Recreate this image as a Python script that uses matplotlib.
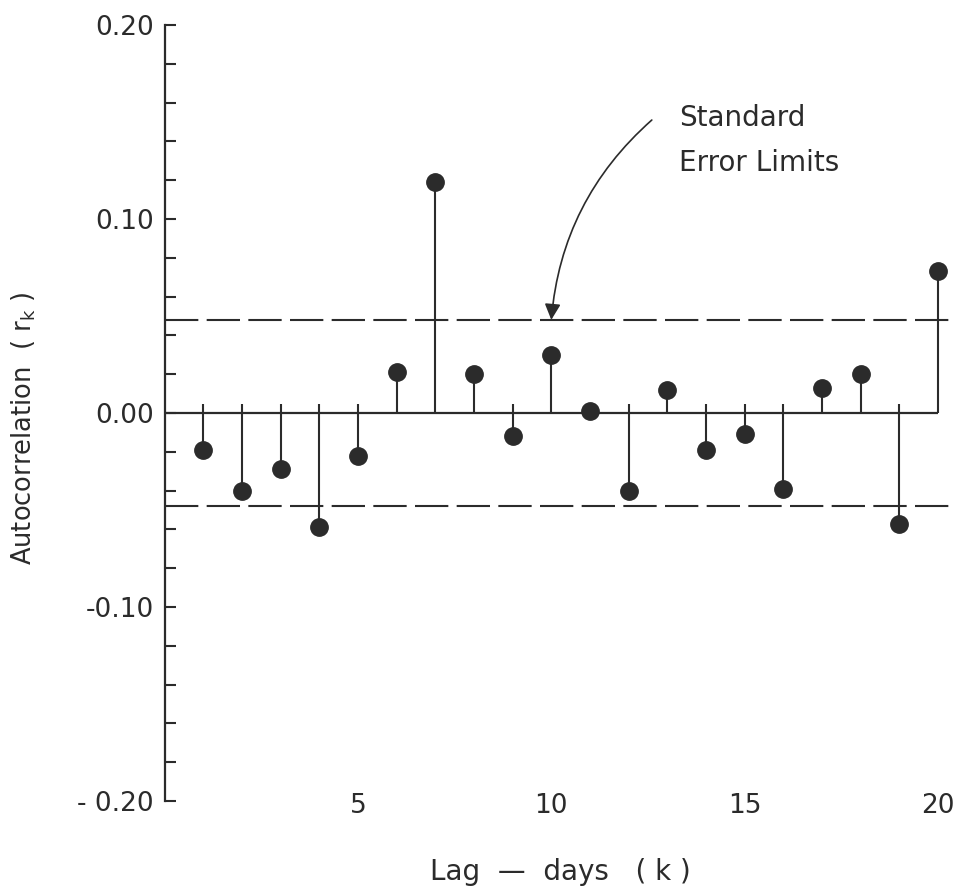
import matplotlib
matplotlib.use('Agg')
from matplotlib import pyplot as plt
from matplotlib.ticker import MultipleLocator, FixedLocator

# autocorrelation by lag
lags = list(range(1, 21))
r_k = [-0.019, -0.040, -0.029, -0.059, -0.022, 0.021, 0.119, 0.020, -0.012, 0.030,
       0.001, -0.040, 0.012, -0.019, -0.011, -0.039, 0.013, 0.020, -0.057, 0.073]
std_error = 0.048
y_ticks = [-0.20, -0.10, 0.00, 0.10, 0.20]
y_tick_labels = ['- 0.20', '-0.10', '0.00', '0.10', '0.20']
x_tick_labels = [5, 10, 15, 20]

ink = '#2b2b2b'
plt.rcParams['font.family'] = ['DejaVu Sans']

fig = plt.figure(figsize=(9.63, 8.91), dpi=100)
ax = fig.add_axes([0.171, 0.101, 0.821, 0.871])
ax.set_xlim(0, 20.45)
ax.set_ylim(-0.20, 0.20)

# zero line runs out to the last lag
ax.plot([0, lags[-1]], [0, 0], color=ink, lw=1.6, solid_capstyle='butt')

# standard error limits
for lim in (std_error, -std_error):
    ax.axhline(lim, color=ink, lw=1.5, dashes=(16, 4))

# stems; the hand-drawn negative stems start a touch above zero
for k, r in zip(lags, r_k):
    top = 0.0045 if r < 0 else 0.0
    ax.plot([k, k], [top, r], color=ink, lw=1.5, solid_capstyle='butt')
ax.plot(lags, r_k, 'o', color=ink, markersize=12.5, zorder=3)

ax.text(13.3, 0.159, 'Standard\nError Limits', fontsize=20, color=ink,
        linespacing=1.75, va='top', ha='left')
ax.annotate('', xy=(10.0, std_error), xytext=(12.6, 0.151),
            arrowprops=dict(arrowstyle='-|>', color=ink, lw=1.2,
                            shrinkA=0, shrinkB=0, mutation_scale=24,
                            connectionstyle='arc3,rad=0.2'))

for side in ('top', 'right', 'bottom'):
    ax.spines[side].set_visible(False)
ax.spines['left'].set_color(ink)
ax.spines['left'].set_linewidth(1.6)

ax.yaxis.set_major_locator(FixedLocator(y_ticks))
ax.set_yticklabels(y_tick_labels)
ax.yaxis.set_minor_locator(MultipleLocator(0.02))
ax.tick_params(axis='y', which='both', direction='in', length=8, width=1.5,
               color=ink, labelcolor=ink, labelsize=19, pad=8)
ax.set_xticks(x_tick_labels)
ax.set_xticklabels([str(v) for v in x_tick_labels])
ax.tick_params(axis='x', length=0, labelsize=19, labelcolor=ink, pad=-6)

ax.set_xlabel('Lag  —  days   ( k )', fontsize=20, color=ink, labelpad=28)
ax.set_ylabel(r'Autocorrelation  ( $\mathregular{r_k}$ )', fontsize=18.5, color=ink)
ax.yaxis.set_label_coords(-0.16, 0.48)

fig.savefig('out.png', dpi=100, facecolor='white')
